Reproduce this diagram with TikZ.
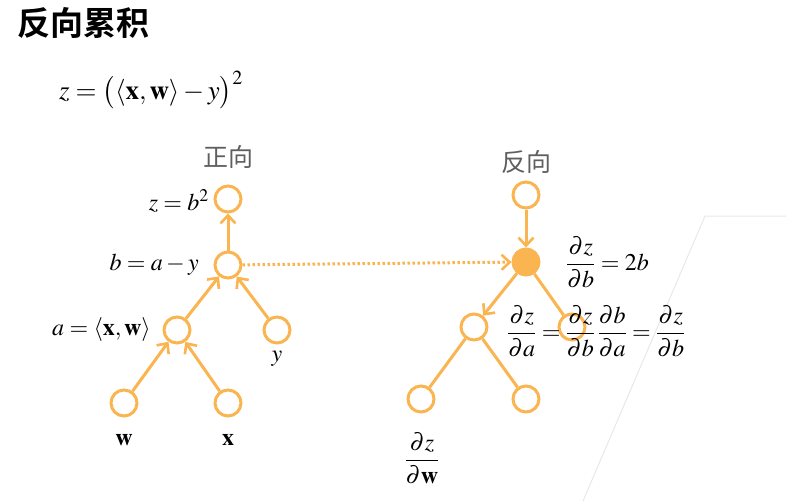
\documentclass[tikz,border=0pt]{standalone}
\usepackage{fontspec}
\usepackage{mathptmx}
\usepackage{amsmath}
\newfontfamily\cjk{Noto Sans CJK SC}
\newfontfamily\cjkb{Noto Sans CJK SC Bold}
\usetikzlibrary{arrows.meta}
\definecolor{org}{RGB}{250,180,80}
\definecolor{grtxt}{RGB}{95,95,95}
\definecolor{faint}{RGB}{232,232,232}
\tikzset{
  nd/.style={circle,draw=org,line width=3pt,minimum size=26pt,inner sep=0pt,fill=white},
  ndf/.style={circle,draw=org,fill=org,line width=3pt,minimum size=26pt,inner sep=0pt},
  ar/.style={draw=org,line width=3pt,-{Straight Barb[length=8pt,width=15pt,line width=2.6pt]}},
  ln/.style={draw=org,line width=3pt},
  dt/.style={draw=org,line width=3pt,dash pattern=on 2.5pt off 2.5pt,-{Straight Barb[length=8pt,width=15pt,line width=2.6pt]}},
  mt/.style={font=\fontsize{24}{28}\selectfont,inner sep=0pt},
  hd/.style={font=\cjk\fontsize{25}{29}\selectfont,text=grtxt,inner sep=0pt}
}
\begin{document}
\begin{tikzpicture}[x=1pt,y=-1pt]
\useasboundingbox (0,0) rectangle (786,501);
% faint background lines
\draw[faint,line width=1pt] (786,216) -- (705,216) -- (583,501);
% title
\node[font=\cjkb\fontsize{33}{36}\selectfont,anchor=west,inner sep=0pt] (title) at (17,23) {反向累积};
\node[font=\fontsize{27}{31}\selectfont,inner sep=0pt,anchor=west] (eq) at (59,90) {$z=\big(\langle\mathbf{x},\mathbf{w}\rangle-y\big)^2$};
% left tree
\node[hd] (fwd) at (228,157) {正向};
\node[nd] (z) at (228,199) {};
\node[nd] (b) at (228,265) {};
\node[nd] (a) at (177,330) {};
\node[nd] (y) at (277,330) {};
\node[nd] (w) at (124,403) {};
\node[nd] (x) at (228,403) {};
\node[mt,anchor=east] (zl) at (209,201) {$z=b^2$};
\node[mt,anchor=east] (bl) at (199,265) {$b=a-y$};
\node[mt,anchor=east] (al) at (151,330) {$a=\langle\mathbf{x},\mathbf{w}\rangle$};
\node[mt] (yl) at (277,359) {$y$};
\node[mt] (wl) at (124,440) {$\mathbf{w}$};
\node[mt] (xl) at (228,440) {$\mathbf{x}$};
\draw[ar] (b) -- (z);
\draw[ar] (a) -- (b);
\draw[ar] (y) -- (b);
\draw[ar] (w) -- (a);
\draw[ar] (x) -- (a);
% right tree
\node[hd] (bwd) at (526,162) {反向};
\node[nd] (rz) at (526,195) {};
\node[ndf] (rb) at (526,262) {};
\node[nd] (ra) at (474,327) {};
\node[nd] (ry) at (572,327) {};
\node[nd] (rw) at (421,399) {};
\node[nd] (rx) at (526,399) {};
\draw[ar] (rz) -- (rb);
\draw[ar] (rb) -- (ra);
\draw[ln] (rb) -- (ry);
\draw[ln] (ra) -- (rw);
\draw[ln] (ra) -- (rx);
\draw[dt] (b) -- (rb);
\node[mt,anchor=west] (db) at (566,262) {$\dfrac{\partial z}{\partial b}=2b$};
\node[mt,anchor=west] (da) at (507,331) {$\dfrac{\partial z}{\partial a}=\dfrac{\partial z}{\partial b}\,\dfrac{\partial b}{\partial a}=\dfrac{\partial z}{\partial b}$};
\node[mt] (dw) at (422,458) {$\dfrac{\partial z}{\partial \mathbf{w}}$};
\end{tikzpicture}
\end{document}
